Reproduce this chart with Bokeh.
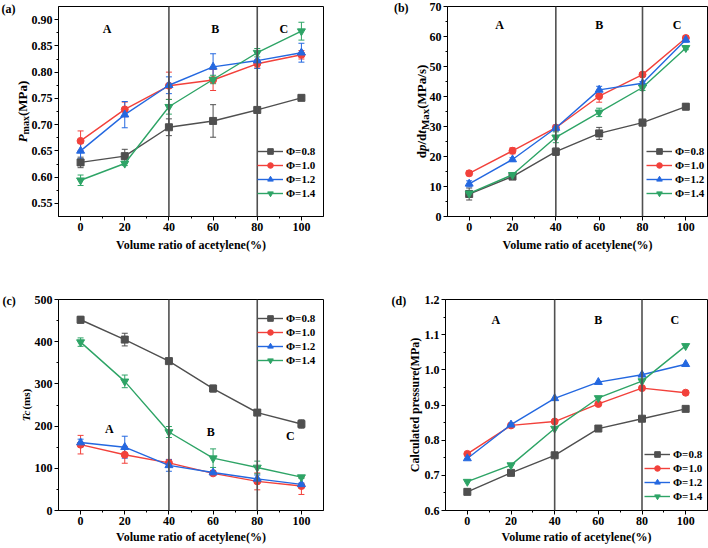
from math import pi
from bokeh.plotting import figure
from bokeh.layouts import column, row
from bokeh.models import (ColumnDataSource, Whisker, TeeHead, Span, Label,
                          FixedTicker, Legend, LegendItem, Range1d)
from bokeh.core.properties import value
from bokeh.embed import file_html
from bokeh.resources import INLINE

# ---------------- data ----------------
x_ratio = [0, 20, 40, 60, 80, 100]
series_names = ["Φ=0.8", "Φ=1.0", "Φ=1.2", "Φ=1.4"]
x_ticks = [0, 20, 40, 60, 80, 100]
x_tick_labels = ["0", "20", "40", "60", "80", "100"]
x_minor = [10, 30, 50, 70, 90]
region_labels = ["A", "B", "C"]
boundaries = [40, 80]

# (a) Pmax (MPa)
pmax_08 = [0.628, 0.640, 0.695, 0.707, 0.728, 0.751]
pmax_10 = [0.669, 0.729, 0.774, 0.785, 0.816, 0.833]
pmax_12 = [0.650, 0.719, 0.775, 0.810, 0.822, 0.837]
pmax_14 = [0.594, 0.626, 0.734, 0.786, 0.837, 0.878]
pmax_err_08 = [0.010, 0.013, 0.016, 0.031, 0.005, 0.002]
pmax_err_10 = [0.019, 0.014, 0.026, 0.020, 0.008, 0.008]
pmax_err_12 = [0.015, 0.025, 0.016, 0.025, 0.015, 0.018]
pmax_err_14 = [0.010, 0.004, 0.014, 0.008, 0.008, 0.017]
pmax_ticks = [0.55, 0.60, 0.65, 0.70, 0.75, 0.80, 0.85, 0.90]
pmax_tick_labels = ["0.55", "0.60", "0.65", "0.70", "0.75", "0.80", "0.85", "0.90"]

# (b) dp/dt max (MPa/s)
dpdt_08 = [7.5, 13.3, 21.6, 27.7, 31.3, 36.6]
dpdt_10 = [14.4, 21.9, 29.6, 40.1, 47.3, 59.5]
dpdt_12 = [10.9, 19.0, 29.5, 42.2, 44.4, 58.9]
dpdt_14 = [7.7, 13.9, 26.4, 34.7, 43.0, 56.2]
dpdt_err_08 = [2.0, 0.6, 1.2, 2.0, 1.1, 1.0]
dpdt_err_10 = [0.8, 1.0, 0.8, 2.0, 0.4, 0.8]
dpdt_err_12 = [1.0, 0.6, 1.0, 1.2, 0.6, 0.8]
dpdt_err_14 = [1.0, 0.5, 1.8, 1.4, 1.0, 0.6]
dpdt_ticks = [0, 10, 20, 30, 40, 50, 60, 70]
dpdt_tick_labels = ["0", "10", "20", "30", "40", "50", "60", "70"]

# (c) Tc (ms)
tc_08 = [452, 405, 354, 289, 232, 205]
tc_10 = [156, 132, 113, 88, 69, 58]
tc_12 = [161, 150, 107, 90, 75, 62]
tc_14 = [399, 306, 186, 124, 102, 79]
tc_err_08 = [8, 15, 3, 8, 3, 10]
tc_err_10 = [22, 20, 8, 5, 20, 20]
tc_err_12 = [8, 26, 14, 5, 9, 3]
tc_err_14 = [10, 15, 13, 22, 15, 3]
tc_ticks = [0, 100, 200, 300, 400, 500]
tc_tick_labels = ["0", "100", "200", "300", "400", "500"]

# (d) calculated pressure (MPa)
calc_08 = [0.653, 0.707, 0.757, 0.833, 0.861, 0.889]
calc_10 = [0.761, 0.842, 0.853, 0.903, 0.948, 0.935]
calc_12 = [0.748, 0.844, 0.919, 0.965, 0.986, 1.016]
calc_14 = [0.682, 0.729, 0.833, 0.920, 0.968, 1.068]
calc_ticks = [0.6, 0.7, 0.8, 0.9, 1.0, 1.1, 1.2]
calc_tick_labels = ["0.6", "0.7", "0.8", "0.9", "1.0", "1.1", "1.2"]

# ---------------- style ----------------
FONT = "Liberation Serif"
colors = ["#4f4f4f", "#f2413b", "#2468e0", "#2ea466"]
markers = ["square", "circle", "triangle", "inverted_triangle"]
marker_sizes = [7, 7, 8, 8]

# Times bold widths per em
W_BOLD = {" ": .25, "(": .333, ")": .333, "/": .278, "%": 1.0, "M": .944, "P": .611,
          "T": .667, "C": .722, "a": .5, "c": .444, "d": .556, "e": .444, "m": .833,
          "x": .5, "s": .389, "p": .556, "t": .333, "l": .278, "u": .556, "r": .444}
W_BI = {"P": .611, "T": .611, "c": .444, "p": .5, "t": .278, "d": .5}

X0, X1 = -10, 110


def tw(text, size, style):
    tab = W_BI if "italic" in style else W_BOLD
    return sum(tab.get(ch, .5) for ch in text) * size


class Panel:
    def __init__(self, y_rng, ticks, tick_labels, bl, br, bt, bb, w, h, title_standoff):
        self.y0, self.y1 = y_rng
        self.fw = w - bl - br
        self.fh = h - bt - bb
        p = figure(width=w, height=h, x_range=Range1d(X0, X1), y_range=Range1d(*y_rng),
                   output_backend="svg", toolbar_location=None,
                   min_border_left=bl, min_border_right=br, min_border_top=bt,
                   min_border_bottom=bb)
        p.grid.visible = False
        p.outline_line_color = "black"
        p.outline_line_width = 1
        p.outline_line_alpha = 1
        p.background_fill_color = "white"
        p.border_fill_color = "white"
        p.xaxis.ticker = FixedTicker(ticks=x_ticks, minor_ticks=x_minor)
        p.xaxis.major_label_overrides = {t: l for t, l in zip(x_ticks, x_tick_labels)}
        mids = [(a + b) / 2 for a, b in zip(ticks[:-1], ticks[1:])]
        p.yaxis.ticker = FixedTicker(ticks=ticks, minor_ticks=mids)
        p.yaxis.major_label_overrides = {t: l for t, l in zip(ticks, tick_labels)}
        for ax in (p.xaxis[0], p.yaxis[0]):
            ax.axis_line_color = "black"
            ax.major_tick_in = 0
            ax.major_tick_out = 4
            ax.minor_tick_in = 0
            ax.minor_tick_out = 2
            ax.major_tick_line_color = "black"
            ax.minor_tick_line_color = "black"
            ax.major_label_text_font = FONT
            ax.major_label_text_font_style = "bold"
            ax.major_label_text_font_size = "12px"
            ax.major_label_text_color = "black"
            ax.major_label_standoff = 2
            ax.axis_label_text_font = FONT
            ax.axis_label_text_font_style = "bold"
            ax.axis_label_text_font_size = "12px"
            ax.axis_label_text_color = "black"
            ax.axis_label_standoff = 0
        p.xaxis.axis_label = "Volume ratio of acetylene(%)"
        p.xaxis.axis_label_standoff = title_standoff
        for b in boundaries:
            p.add_layout(Span(location=b, dimension="height", line_color="#505050",
                              line_width=1.6))
        self.p = p

    # convert frame-relative pixel positions (from left / from bottom) to data units
    def dx(self, px):
        return X0 + px * (X1 - X0) / self.fw

    def dy(self, px):
        return self.y0 + px * (self.y1 - self.y0) / self.fh

    def series(self, ys, errs, legend_xy):
        p = self.p
        items = []
        for i, y in enumerate(ys):
            src = ColumnDataSource(dict(x=x_ratio, y=y))
            if errs is not None:
                e = errs[i]
                esrc = ColumnDataSource(dict(x=x_ratio, lo=[a - b for a, b in zip(y, e)],
                                             hi=[a + b for a, b in zip(y, e)]))
                p.add_layout(Whisker(source=esrc, base="x", lower="lo", upper="hi",
                                     line_color=colors[i], line_width=1,
                                     upper_head=TeeHead(size=6, line_color=colors[i], line_width=1),
                                     lower_head=TeeHead(size=6, line_color=colors[i], line_width=1)))
            ln = p.line("x", "y", source=src, line_color=colors[i], line_width=1.4)
            sc = p.scatter("x", "y", source=src, marker=markers[i], size=marker_sizes[i],
                           fill_color=colors[i], line_color=colors[i])
            items.append(LegendItem(label=series_names[i], renderers=[ln, sc]))
        lg = Legend(items=items, location=legend_xy)
        lg.label_text_font = FONT
        lg.label_text_font_style = "bold"
        lg.label_text_font_size = "11px"
        lg.label_text_color = "black"
        lg.border_line_alpha = 0
        lg.background_fill_alpha = 0
        lg.glyph_width = 26
        lg.glyph_height = 14
        lg.label_height = 14
        lg.spacing = 0
        lg.padding = 0
        lg.margin = 0
        lg.label_standoff = 3
        p.add_layout(lg)

    def regions(self, xs, ys):
        self.p.text(x=xs, y=ys, text=region_labels, text_font=value(FONT),
                    text_font_style="bold", text_font_size="12px", text_align="center",
                    text_baseline="middle", text_color="black")

    def tag(self, text, px, py, side):
        self.p.add_layout(Label(x=self.dx(px), y=self.dy(py), text=text,
                                text_font=FONT, text_font_style="bold", text_font_size="12px",
                                text_align="left", text_baseline="middle", text_color="black"),
                          side)

    def vtitle(self, pieces, px, pcenter):
        widths = [tw(t, s, st) for t, s, st, d, side in pieces]
        off = -sum(widths) / 2
        for (t, s, st, d, side), w in zip(pieces, widths):
            self.p.add_layout(Label(x=self.dx(px), y=self.dy(pcenter), x_offset=d, y_offset=off,
                                    text=t, angle=pi / 2, text_align="left",
                                    text_baseline="middle", text_font=FONT,
                                    text_font_style=st, text_font_size=f"{s}px",
                                    text_color="black"),
                              side)
            off += w


# ---------------- layout ----------------
W = 354
TH, BH = 274, 272

a = Panel((0.525, 0.925), pmax_ticks, pmax_tick_labels, 58, 31, 6, 58, W, TH, 4)
a.series([pmax_08, pmax_10, pmax_12, pmax_14],
         [pmax_err_08, pmax_err_10, pmax_err_12, pmax_err_14], (199, 16))
a.regions([12, 61, 92], [0.883, 0.883, 0.883])
a.tag("(a)", -57, a.fh + 6 - 8, "below")
a.vtitle([("P", 13, "bold italic", 0, "left"), ("max", 10, "bold", 3, "left"),
          ("(MPa)", 13, "bold", 0, "right")], -36, a.fh / 2)

b = Panel((0, 70), dpdt_ticks, dpdt_tick_labels, 91, 1, 6, 58, W, TH, 4)
b.series([dpdt_08, dpdt_10, dpdt_12, dpdt_14],
         [dpdt_err_08, dpdt_err_10, dpdt_err_12, dpdt_err_14], (199, 16))
b.regions([14, 60, 96], [63.8, 63.8, 63.8])
b.tag("(b)", -54, b.fh + 6 - 7, "below")
b.vtitle([("d", 13, "bold", 0, "left"), ("p", 13, "bold italic", 0, "left"),
          ("/d", 13, "bold", 0, "left"), ("t", 13, "bold italic", 0, "below"),
          ("Max", 11, "bold", 3, "left"), ("(MPa/s)", 13, "bold", 0, "left")],
         -26, b.fh / 2)

c = Panel((0, 500), tc_ticks, tc_tick_labels, 58, 31, 25, 35, W, BH, 2)
c.series([tc_08, tc_10, tc_12, tc_14],
         [tc_err_08, tc_err_10, tc_err_12, tc_err_14], (199, 143))
c.regions([13, 59, 95], [194, 186, 176])
c.tag("(c)", -56, c.fh - 2, "above")
c.vtitle([("Tc", 11, "bold italic", 0, "left"), ("(ms)", 11, "bold", 0, "right")],
         -33, c.fh / 2)

d = Panel((0.6, 1.2), calc_ticks, calc_tick_labels, 91, 1, 25, 35, W, BH, 2)
d.series([calc_08, calc_10, calc_12, calc_14], None, (199, 7))
d.regions([13, 60, 95], [1.141, 1.141, 1.141])
d.tag("(d)", -54, d.fh - 2, "above")
d.p.yaxis.axis_label = "Calculated pressure(MPa)"
d.p.yaxis.axis_label_standoff = 0

layout = column(row(a.p, b.p, spacing=0), row(c.p, d.p, spacing=0), spacing=0)

open("out.html", "w").write(file_html(layout, INLINE))
